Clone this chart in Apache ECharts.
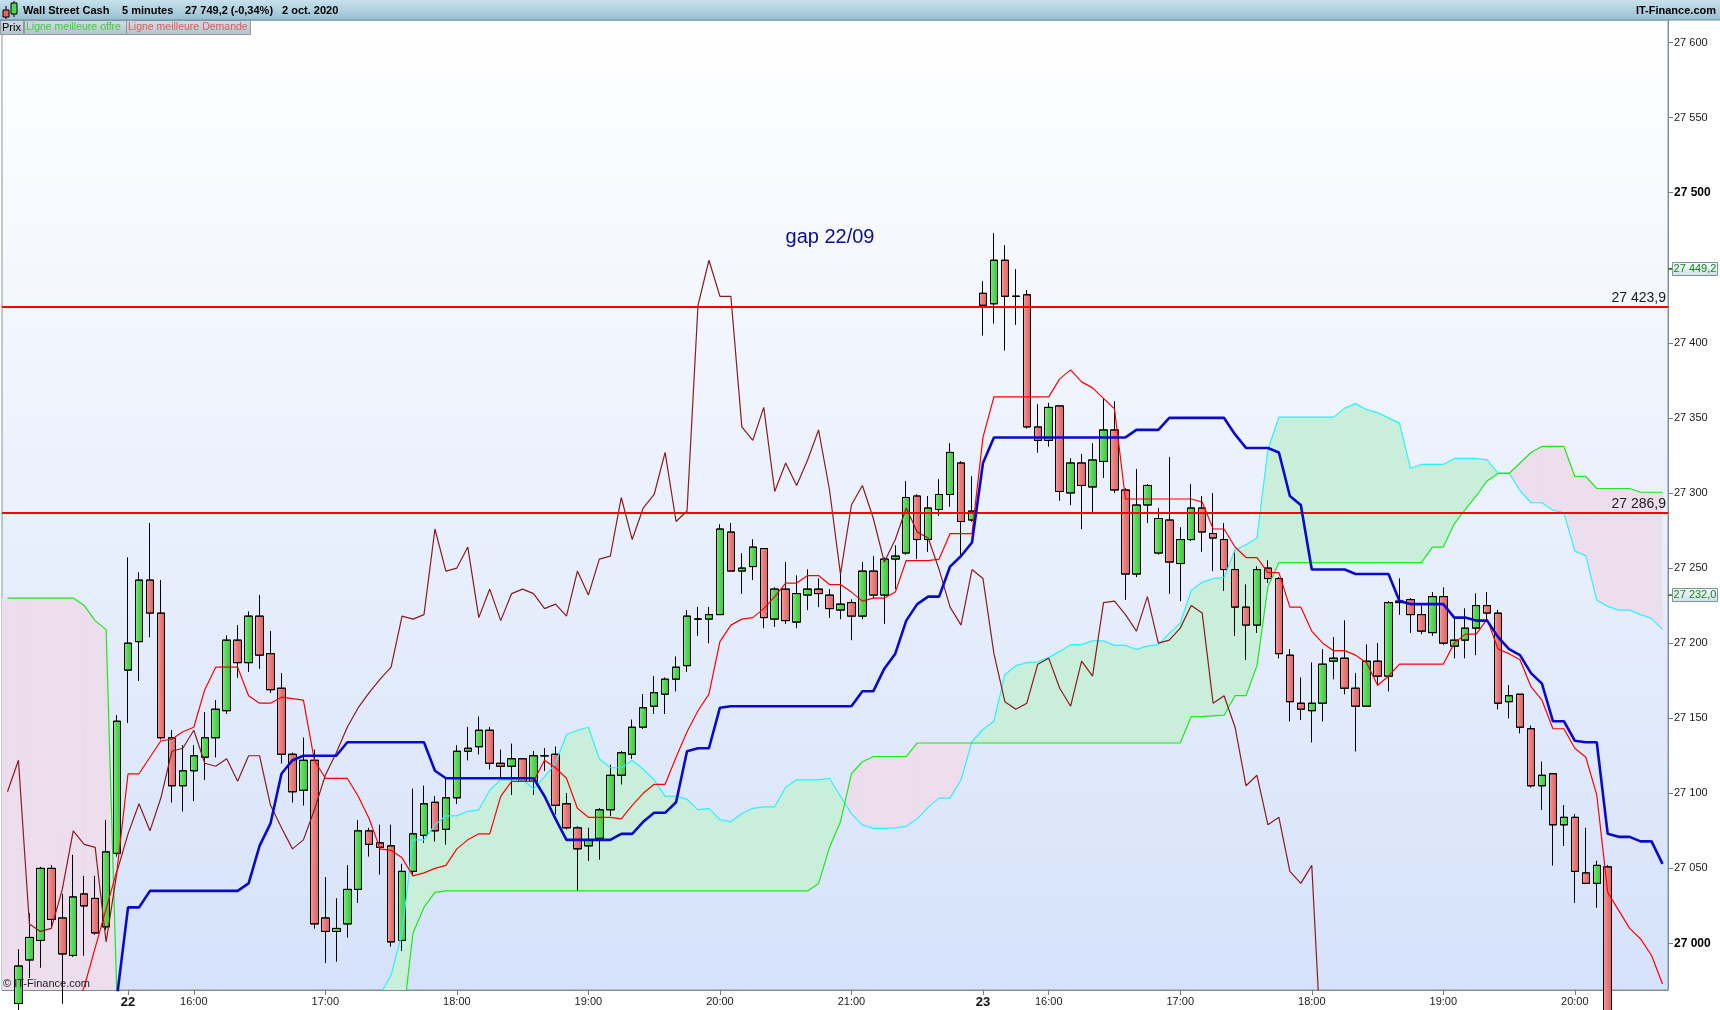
<!DOCTYPE html>
<html><head><meta charset="utf-8">
<script src="https://cdn.jsdelivr.net/npm/echarts@6/dist/echarts.min.js"></script>
<style>html,body{margin:0;padding:0;background:#fff;}#c{width:1720px;height:1010px;}</style>
</head><body><div id="c"></div>
<script>
// ---------- sessions (category axis) ----------
const sessionDays   = ['21', '22', '23'];
const sessionStarts = ['21:05', '15:30', '15:30'];
const sessionEnds   = ['21:55', '21:55', '20:40'];

// ---------- candles (index 0 = 21/09 21:05) ----------
const opens = [null,
26960,26989,27002,27050,27017,26992,27033,27030,27011,27060,
27182,27201,27242,27220,27137,27105,27115,27124,27137,27155,
27202,27187,27218,27193,27170,27126,27102,27122,27017,27008,
27013,27036,27075,27067,27065,27002,27048,27072,27094,27076,
27097,27128,27131,27142,27120,27118,27123,27108,27125,27126,
27093,27077,27065,27070,27089,27112,27126,27144,27158,27166,
27176,27185,27216,27216,27219,27274,27248,27251,27263,27216,
27236,27214,27232,27236,27232,27222,27227,27218,27248,27232,
27256,27260,27298,27269,27289,27299,27320,27282,27433,27426,
27455,27431,27432,27344,27335,27358,27300,27320,27304,27321,
27342,27302,27246,27292,27260,27282,27253,27269,27290,27273,
27269,27249,27224,27212,27250,27243,27192,27160,27155,27160,
27188,27190,27170,27158,27188,27178,27227,27229,27219,27207,
27231,27198,27202,27210,27225,27220,27161,27166,27143,27105,
27113,27079,27084,27047,27040,27051];
const closes = [null,
26985,27004,27050,27016,26993,27031,27025,27007,27061,27148,
27200,27242,27220,27137,27105,27115,27125,27137,27156,27202,
27187,27218,27192,27169,27126,27101,27122,27013,27008,27010,
27036,27075,27066,27064,27001,27048,27073,27093,27075,27097,
27128,27130,27142,27120,27118,27123,27108,27125,27125,27092,
27077,27063,27069,27089,27112,27127,27144,27157,27167,27176,
27184,27218,27216,27219,27276,27248,27250,27264,27217,27236,
27215,27233,27236,27233,27223,27226,27218,27248,27232,27256,
27258,27297,27269,27290,27299,27327,27281,27288,27425,27455,
27431,27431,27344,27335,27357,27301,27320,27305,27322,27342,
27302,27246,27292,27305,27283,27254,27269,27290,27274,27270,
27249,27224,27212,27249,27243,27193,27161,27156,27160,27186,
27190,27170,27158,27188,27178,27227,27228,27219,27208,27231,
27200,27202,27210,27225,27220,27160,27165,27144,27105,27112,
27079,27084,27048,27040,27052,26910];
const lows = [null,
26950,26977,26984,27011,26960,26991,26992,27006,27009,27058,
27147,27175,27204,27136,27094,27088,27095,27109,27124,27153,
27177,27181,27183,27167,27120,27094,27092,27010,26987,26988,
27004,27027,27058,27046,26998,26995,27045,27067,27068,27066,
27093,27122,27126,27116,27110,27099,27108,27099,27115,27086,
27076,27035,27055,27056,27085,27106,27123,27143,27153,27153,
27168,27181,27205,27200,27219,27248,27233,27242,27210,27211,
27213,27210,27222,27224,27217,27216,27202,27216,27230,27213,
27236,27259,27256,27261,27285,27291,27258,27281,27405,27413,
27395,27412,27343,27327,27331,27295,27292,27276,27286,27310,
27300,27229,27244,27280,27259,27233,27228,27268,27261,27248,
27235,27205,27189,27207,27240,27190,27148,27149,27134,27148,
27176,27166,27128,27158,27172,27168,27219,27207,27206,27205,
27199,27190,27190,27192,27216,27156,27150,27140,27104,27089,
27052,27065,27027,27040,27024,26902];
const highs = [null,
26996,27020,27051,27052,27033,27059,27045,27045,27082,27152,
27257,27247,27280,27242,27142,27132,27132,27154,27162,27205,
27212,27221,27232,27208,27180,27127,27137,27129,27044,27030,
27052,27082,27077,27079,27079,27053,27103,27105,27098,27110,
27132,27144,27151,27144,27129,27133,27123,27128,27130,27131,
27100,27078,27077,27090,27119,27128,27149,27166,27178,27177,
27191,27222,27224,27224,27279,27280,27260,27269,27263,27237,
27254,27245,27249,27243,27236,27246,27229,27254,27258,27257,
27265,27308,27299,27298,27309,27333,27321,27311,27441,27473,
27465,27449,27435,27359,27360,27358,27323,27326,27333,27363,
27361,27303,27316,27306,27290,27324,27277,27306,27298,27300,
27280,27262,27239,27251,27255,27244,27196,27177,27187,27196,
27204,27215,27180,27199,27200,27228,27243,27230,27225,27234,
27237,27216,27223,27233,27234,27222,27172,27166,27145,27121,
27113,27092,27086,27077,27055,27052];

// ---------- Ichimoku lines (index 0..151) ----------
const tenkan = [
26950,26950,26950,26950,26950,26950,26955,26971,26997,27023,
27049,27113,27113,27124,27135,27136,27141,27144,27169,27184,
27184,27184,27165,27160,27160,27164,27163,27162,27122,27110,
27110,27110,27098,27083,27063,27062,27057,27045,27047,27050,
27052,27063,27069,27073,27073,27098,27108,27108,27108,27122,
27117,27110,27090,27084,27084,27084,27083,27092,27100,27106,
27106,27124,27141,27155,27166,27201,27212,27216,27217,27223,
27231,27240,27240,27245,27245,27239,27239,27234,27228,27230,
27230,27234,27255,27255,27255,27256,27273,27273,27273,27337,
27364,27364,27364,27364,27364,27364,27376,27382,27374,27370,
27363,27356,27296,27296,27296,27296,27296,27296,27296,27294,
27276,27276,27264,27257,27257,27247,27247,27224,27224,27208,
27200,27195,27195,27192,27187,27172,27178,27186,27186,27186,
27186,27186,27200,27206,27206,27216,27196,27193,27189,27171,
27162,27143,27143,27130,27124,27099,27034,27022,27010,27003,
26992,26973];
const kijun = [
26935,26935,26935,26935,26935,26935,26935,26935,26935,26935,
26965,27024,27024,27035,27035,27035,27035,27035,27035,27035,
27035,27035,27040,27065,27080,27113,27122,27125,27125,27125,
27125,27134,27134,27134,27134,27134,27134,27134,27134,27115,
27110,27110,27110,27110,27110,27110,27110,27110,27110,27098,
27083,27069,27069,27069,27069,27069,27073,27073,27081,27087,
27087,27094,27128,27130,27130,27157,27158,27158,27158,27158,
27158,27158,27158,27158,27158,27158,27158,27158,27168,27168,
27183,27193,27215,27226,27231,27231,27251,27258,27267,27320,
27337,27337,27337,27337,27337,27337,27337,27337,27337,27337,
27337,27337,27337,27342,27342,27342,27350,27350,27350,27350,
27350,27350,27339,27330,27330,27330,27327,27298,27292,27249,
27249,27249,27249,27246,27246,27246,27246,27228,27226,27226,
27226,27226,27217,27217,27215,27215,27204,27196,27192,27180,
27173,27148,27148,27135,27134,27134,27073,27071,27071,27068,
27068,27053];
const spanA = [
26900,26900,26900,26900,26900,26900,26900,26900,26900,26900,
26900,26900,26900,26900,26900,26900,26900,26900,26900,26900,
26900,26900,26900,26900,26900,26900,26900,26900,26900,26900,
26900,26900,26900,26953,26966,26979,27007,27069,27069,27079,
27085,27085,27088,27089,27102,27109,27109,27109,27103,27111,
27120,27139,27142,27144,27123,27117,27117,27122,27116,27109,
27098,27098,27096,27089,27090,27082.5,27081,27086.5,27090,27091,
27091,27104,27109,27109,27109,27110,27098,27086.5,27079,27076.6,
27076.6,27077,27078,27083,27090.8,27096.8,27096.8,27109,27134.5,27142.5,
27148,27179,27185,27187,27187.5,27190.5,27194.5,27199,27199,27201.5,
27201.5,27198.5,27198.5,27195.8,27198,27199,27206.5,27213.3,27235,27240.5,
27243,27243.8,27262,27265.5,27270,27328.8,27350.5,27350.5,27350.5,27350.5,
27350.5,27350.5,27356.5,27359.5,27355.5,27353.5,27350,27346.5,27316.5,27319,
27319,27319,27323,27323,27323,27322,27313,27313.3,27301.5,27293.5,
27293.5,27288.5,27287,27261.3,27258.3,27228.5,27224.5,27222,27222,27219,
27216.5,27209];
const spanB = [
27230,27230,27230,27230,27230,27230,27230,27225,27215,27209,
26960,26900,26900,26900,26900,26900,26900,26900,26900,26900,
26900,26900,26900,26900,26900,26900,26900,26900,26900,26900,
26900,26900,26900,26900,26900,26900,26944,27007,27024,27034,
27035,27035,27035,27035,27035,27035,27035,27035,27035,27035,
27035,27035,27035,27035,27035,27035,27035,27035,27035,27035,
27035,27035,27035,27035,27035,27035,27035,27035,27035,27035,
27035,27035,27035,27035,27040,27064,27081,27113,27121,27124.5,
27124.5,27124.5,27124.5,27133.5,27133.5,27133.5,27133.5,27133.5,27133.5,27133.5,
27133.5,27133.5,27133.5,27133.5,27133.5,27133.5,27133.5,27133.5,27133.5,27133.5,
27133.5,27133.5,27133.5,27133.5,27133.5,27133.5,27133.5,27133.5,27151,27151,
27151.5,27152,27165,27165,27185,27237.6,27253.6,27253.6,27253.6,27253.6,
27253.6,27253.6,27253.6,27253.6,27253.6,27253.6,27253.6,27253.6,27253.6,27253.6,
27264,27264,27279.5,27289,27298,27308,27313,27313,27320,27327,
27331,27331,27331,27311,27311,27303,27303,27303,27303,27300.5,
27300.5,27300.5];
const chikouShift = 26;               // lagging line = close plotted 26 periods back
const levels = [27423.9, 27286.9];    // horizontal lines
const priceBoxes = [27449.2, 27232.0];

// ---------- build categories ----------
const categories = [];
sessionDays.forEach((d, k) => {
  let [h, m] = sessionStarts[k].split(':').map(Number);
  const [eh, em] = sessionEnds[k].split(':').map(Number);
  while (h * 60 + m <= eh * 60 + em) {
    categories.push(d + ' ' + String(h).padStart(2, '0') + ':' + String(m).padStart(2, '0'));
    m += 5; if (m >= 60) { m -= 60; h++; }
  }
});
const candleData = opens.map((o, i) => o == null ? '-' : [o, closes[i], lows[i], highs[i]]);
const chikou = closes.slice(chikouShift);
const cloudData = [];
for (let i = 0; i < spanA.length - 1; i++) cloudData.push([i, spanA[i], spanB[i], spanA[i + 1], spanB[i + 1]]);

const FONT = 'Liberation Sans, Arial, sans-serif';
const fmtInt = v => { const s = String(Math.round(v)); return s.slice(0, -3) + ' ' + s.slice(-3); };
const fmtDec = v => { const p = v.toFixed(1).split('.'); return p[0].slice(0, -3) + ' ' + p[0].slice(-3) + ',' + p[1]; };
const isLabel = idx => { const t = categories[idx].split(' ')[1]; return t === '15:30' || t.slice(3) === '00'; };

const GREEN_FILL = '#c9efdb';
const PINK_FILL = '#ecdeec';
function renderCloud(params, api) {
  const i = api.value(0);
  const a0 = api.value(1), b0 = api.value(2), a1 = api.value(3), b1 = api.value(4);
  const pA0 = api.coord([i, a0]), pB0 = api.coord([i, b0]);
  const pA1 = api.coord([i + 1, a1]), pB1 = api.coord([i + 1, b1]);
  const d0 = a0 - b0, d1 = a1 - b1;
  const col = d => d >= 0 ? GREEN_FILL : PINK_FILL;
  const st = c => ({fill: c, stroke: c, lineWidth: 0.8});
  const ch = [];
  if (i === 0) {
    const xl = params.coordSys.x;
    ch.push({type: 'polygon', shape: {points: [[xl, pA0[1]], pA0, pB0, [xl, pB0[1]]]}, style: st(col(d0))});
  }
  if (d0 * d1 >= 0) {
    ch.push({type: 'polygon', shape: {points: [pA0, pA1, pB1, pB0]}, style: st(col(d0 + d1))});
  } else {
    const t = d0 / (d0 - d1);
    const pc = [pA0[0] + t * (pA1[0] - pA0[0]), pA0[1] + t * (pA1[1] - pA0[1])];
    ch.push({type: 'polygon', shape: {points: [pA0, pc, pB0]}, style: st(col(d0))});
    ch.push({type: 'polygon', shape: {points: [pc, pA1, pB1]}, style: st(col(d1))});
  }
  return {type: 'group', children: ch};
}

const chart = echarts.init(document.getElementById('c'), null, {renderer: 'canvas'});
const lineBase = {type: 'line', showSymbol: false, symbol: 'none', smooth: false, z: 4, silent: true, animation: false};
const legendFill = {type: 'linear', x: 0, y: 0, x2: 0, y2: 1, colorStops: [{offset: 0, color: '#d2dde3'}, {offset: 1, color: '#b3c3cc'}]};

const option = {
  animation: false,
  backgroundColor: '#ffffff',
  textStyle: {fontFamily: FONT},
  grid: {
    left: 2, top: 20, width: 1666, height: 970, show: true,
    borderColor: '#8797a3', borderWidth: 1,
    backgroundColor: {type: 'linear', x: 0, y: 0, x2: 0, y2: 1,
      colorStops: [{offset: 0, color: '#ffffff'}, {offset: 1, color: '#d5e2fa'}]}
  },
  xAxis: {
    type: 'category', data: categories, boundaryGap: true,
    axisLine: {show: true, lineStyle: {color: '#7d8d99'}},
    axisTick: {show: true, interval: (i) => isLabel(i), alignWithLabel: true, length: 5, lineStyle: {color: '#6f7f8b'}},
    axisLabel: {
      interval: (i) => isLabel(i), margin: 6, fontFamily: FONT, fontSize: 11, color: '#1a1a1a',
      formatter: v => { const p = v.split(' '); return p[1] === '15:30' ? '{d|' + p[0] + '}' : p[1]; },
      rich: {d: {fontSize: 13, fontWeight: 'bold', color: '#111', fontFamily: FONT}}
    },
    splitLine: {show: false}
  },
  yAxis: {
    type: 'value', position: 'right', min: 26969, max: 27615, scale: true,
    splitNumber: 12, minInterval: 50, maxInterval: 50,
    axisLine: {show: true, lineStyle: {color: '#7d8d99'}},
    axisTick: {show: true, length: 5, lineStyle: {color: '#6f7f8b'}},
    axisLabel: {
      margin: 6, showMinLabel: false, showMaxLabel: false, fontFamily: FONT,
      formatter: v => (Math.round(v) % 500 === 0 ? '{b|' + fmtInt(v) + '}' : '{n|' + fmtInt(v) + '}'),
      rich: {n: {fontSize: 11, color: '#1a1a1a', fontFamily: FONT}, b: {fontSize: 12, fontWeight: 'bold', color: '#000', fontFamily: FONT}}
    },
    splitLine: {show: false}
  },
  series: [
    {type: 'custom', name: 'cloud', renderItem: renderCloud, data: cloudData, clip: true, z: 1, silent: true,
     encode: {x: 0, y: [1, 2, 3, 4]}},
    {type: 'candlestick', name: 'Prix', data: candleData, barWidth: 8, clip: true, z: 2, silent: true,
     itemStyle: {
       color: {type: 'linear', x: 0, y: 0, x2: 1, y2: 0, colorStops: [{offset: 0, color: '#93f093'}, {offset: 0.35, color: '#5edc5e'}, {offset: 1, color: '#3cc43c'}]},
       color0: {type: 'linear', x: 0, y: 0, x2: 1, y2: 0, colorStops: [{offset: 0, color: '#f7abab'}, {offset: 0.35, color: '#ee8282'}, {offset: 1, color: '#db6060'}]},
       borderColor: '#000', borderColor0: '#000', borderWidth: 1
     }},
    Object.assign({}, lineBase, {name: 'spanA', data: spanA, lineStyle: {color: '#2ef0ff', width: 1.2}}),
    Object.assign({}, lineBase, {name: 'spanB', data: spanB, lineStyle: {color: '#1ee81e', width: 1.2}}),
    Object.assign({}, lineBase, {name: 'chikou', data: chikou, lineStyle: {color: '#8b1c1c', width: 1.2}}),
    Object.assign({}, lineBase, {name: 'tenkan', data: tenkan, lineStyle: {color: '#ff0000', width: 1.2},
      markLine: {symbol: 'none', silent: true, animation: false,
        lineStyle: {color: '#ff0000', width: 2.2, type: 'solid'},
        label: {show: true, position: 'insideEndTop', distance: [2, 2], formatter: p => fmtDec(p.value),
          color: '#1a1a1a', fontSize: 14, fontFamily: FONT},
        data: levels.map(v => ({yAxis: v}))}}),
    Object.assign({}, lineBase, {name: 'kijun', data: kijun, z: 5, lineStyle: {color: '#0a0ac8', width: 2.6}})
  ],
  graphic: [
    {id: 'hdr', type: 'rect', z: 50, shape: {x: 0, y: 0, width: 1720, height: 20},
     style: {fill: {type: 'linear', x: 0, y: 0, x2: 0, y2: 1, colorStops: [{offset: 0, color: '#c8e1ec'}, {offset: 1, color: '#98bfd1'}]}}},
    {id: 'hdrLine', type: 'line', z: 51, shape: {x1: 0, y1: 20, x2: 1720, y2: 20}, style: {stroke: '#6e8fa0', lineWidth: 1}},
    {id: 'ic1w', type: 'line', z: 52, shape: {x1: 6, y1: 6, x2: 6, y2: 19}, style: {stroke: '#000', lineWidth: 1}},
    {id: 'ic1', type: 'rect', z: 53, shape: {x: 3, y: 10, width: 6, height: 7}, style: {fill: '#e86262', stroke: '#000', lineWidth: 1}},
    {id: 'ic2w', type: 'line', z: 52, shape: {x1: 14, y1: 1, x2: 14, y2: 17}, style: {stroke: '#000', lineWidth: 1}},
    {id: 'ic2', type: 'rect', z: 53, shape: {x: 11, y: 3, width: 6, height: 11}, style: {fill: '#4fd84f', stroke: '#000', lineWidth: 1}},
    {id: 't1', type: 'text', z: 55, style: {x: 23, y: 10.5, text: 'Wall Street Cash', font: 'bold 11px ' + FONT, fill: '#000', textVerticalAlign: 'middle'}},
    {id: 't2', type: 'text', z: 55, style: {x: 122, y: 10.5, text: '5 minutes', font: 'bold 11px ' + FONT, fill: '#000', textVerticalAlign: 'middle'}},
    {id: 't3', type: 'text', z: 55, style: {x: 185, y: 10.5, text: '27 749,2 (-0,34%)', font: 'bold 11px ' + FONT, fill: '#000', textVerticalAlign: 'middle'}},
    {id: 't4', type: 'text', z: 55, style: {x: 282, y: 10.5, text: '2 oct. 2020', font: 'bold 11px ' + FONT, fill: '#000', textVerticalAlign: 'middle'}},
    {id: 't5', type: 'text', z: 55, style: {x: 1716, y: 10.5, text: 'IT-Finance.com', font: 'bold 11px ' + FONT, fill: '#000', textAlign: 'right', textVerticalAlign: 'middle'}},
    {id: 'lg1', type: 'rect', z: 50, shape: {x: 0.5, y: 20.5, width: 23, height: 14}, style: {fill: legendFill, stroke: '#8a99a5', lineWidth: 1}},
    {id: 'lg2', type: 'rect', z: 50, shape: {x: 24.5, y: 20.5, width: 102, height: 14}, style: {fill: legendFill, stroke: '#8a99a5', lineWidth: 1}},
    {id: 'lg3', type: 'rect', z: 50, shape: {x: 126.5, y: 20.5, width: 124, height: 14}, style: {fill: legendFill, stroke: '#8a99a5', lineWidth: 1}},
    {id: 'lt1', type: 'text', z: 55, style: {x: 2, y: 27.5, text: 'Prix', font: '11px ' + FONT, fill: '#000', textVerticalAlign: 'middle'}},
    {id: 'lt2', type: 'text', z: 55, style: {x: 26, y: 27.5, text: 'Ligne meilleure offre', font: '10.5px ' + FONT, fill: '#3fcd3f', textVerticalAlign: 'middle'}},
    {id: 'lt3', type: 'text', z: 55, style: {x: 128, y: 27.5, text: 'Ligne meilleure Demande', font: '10.5px ' + FONT, fill: '#e25a5a', textVerticalAlign: 'middle'}},
    {id: 'gap', type: 'text', z: 55, style: {x: 830, y: 237, text: 'gap 22/09', font: '20px ' + FONT, fill: '#0c0c92', textAlign: 'center', textVerticalAlign: 'middle'}},
    {id: 'copy', type: 'text', z: 55, style: {x: 3, y: 984, text: '\u00a9 IT-Finance.com', font: '11px ' + FONT, fill: '#1a1a1a', textVerticalAlign: 'middle'}}
  ]
};
chart.setOption(option);

// value boxes on the price axis, positioned through the axis scale
const boxes = [];
priceBoxes.forEach((v, k) => {
  const y = chart.convertToPixel({yAxisIndex: 0}, v);
  boxes.push({id: 'bt' + k, type: 'line', z: 60, shape: {x1: 1668, y1: y, x2: 1673, y2: y}, style: {stroke: '#127a12', lineWidth: 1.5}});
  boxes.push({id: 'bx' + k, type: 'rect', z: 60, shape: {x: 1672.5, y: Math.round(y) - 6.5, width: 45, height: 13},
    style: {fill: {type: 'linear', x: 0, y: 0, x2: 0, y2: 1, colorStops: [{offset: 0, color: '#f6f9fc'}, {offset: 1, color: '#d3dfea'}]}, stroke: '#7b92a3', lineWidth: 1}});
  boxes.push({id: 'bl' + k, type: 'text', z: 61, style: {x: 1695, y: Math.round(y), text: fmtDec(v), font: '11px ' + FONT, fill: '#118811', textAlign: 'center', textVerticalAlign: 'middle'}});
});
chart.setOption({graphic: boxes});
</script></body></html>
